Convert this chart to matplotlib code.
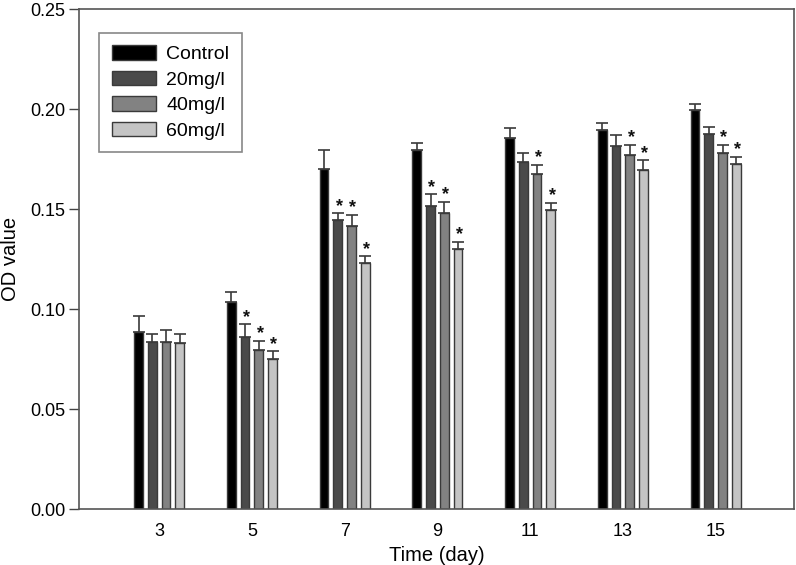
import numpy as np
import matplotlib
matplotlib.use("Agg")
import matplotlib.pyplot as plt

plt.rcParams["font.family"] = ["Liberation Sans", "DejaVu Sans"]

days = [3, 5, 7, 9, 11, 13, 15]
groups = ["Control", "20mg/l", "40mg/l", "60mg/l"]

# bar heights (OD value)
control = [0.0885, 0.1037, 0.1702, 0.1797, 0.1858, 0.1898, 0.1998]
mg20 = [0.0838, 0.0862, 0.1445, 0.1515, 0.1738, 0.1817, 0.1875]
mg40 = [0.0838, 0.0797, 0.1415, 0.1480, 0.1675, 0.1773, 0.1780]
mg60 = [0.0832, 0.0753, 0.1232, 0.1303, 0.1497, 0.1698, 0.1728]

# upper error (SD)
err_control = [0.0080, 0.0048, 0.0093, 0.0036, 0.0047, 0.0035, 0.0029]
err_20 = [0.0039, 0.0063, 0.0035, 0.0060, 0.0042, 0.0056, 0.0035]
err_40 = [0.0057, 0.0046, 0.0057, 0.0058, 0.0047, 0.0049, 0.0042]
err_60 = [0.0045, 0.0037, 0.0033, 0.0035, 0.0036, 0.0047, 0.0035]

# significance markers (True = *)
sig_20 = [False, True, True, True, False, False, False]
sig_40 = [False, True, True, True, True, True, True]
sig_60 = [False, True, True, True, True, True, True]

values = [control, mg20, mg40, mg60]
errors = [err_control, err_20, err_40, err_60]
stars = [[False] * 7, sig_20, sig_40, sig_60]
colors = ["#000000", "#4a4a4a", "#828282", "#c4c4c4"]

fig = plt.figure(figsize=(7.96, 5.65), dpi=100)
ax = fig.add_axes([0.0992, 0.0986, 0.8983, 0.8849])

x = np.array(days, dtype=float)
width = 0.19
step = 0.296
for i, (vals, errs, sig, col) in enumerate(zip(values, errors, stars, colors)):
    pos = x + (i - 1.5) * step
    ax.bar(pos, vals, width=width, color=col, edgecolor="#3a3a3a",
           linewidth=1.0, label=groups[i], zorder=2)
    ax.errorbar(pos, vals, yerr=[np.zeros(len(errs)), errs], fmt="none",
                ecolor="#3a3a3a", elinewidth=1.2, capsize=4.5, capthick=1.2,
                zorder=1)
    for p, v, e, s in zip(pos, vals, errs, sig):
        if s:
            ax.text(p + 0.03, v + e + 0.0035, "*", ha="center", va="center",
                    fontsize=13, fontweight="bold", color="#111111")

ax.set_xlim(1.27, 16.69)
ax.set_ylim(0, 0.25)
ax.set_xticks(days)
ax.set_xticklabels([str(d) for d in days])
ax.set_yticks([0.0, 0.05, 0.10, 0.15, 0.20, 0.25])
ax.set_yticklabels(["0.00", "0.05", "0.10", "0.15", "0.20", "0.25"])
ax.tick_params(axis="x", length=0, labelsize=13, pad=10)
ax.tick_params(axis="y", length=7, width=1.0, color="#444444", labelsize=13, pad=3)

for sp in ax.spines.values():
    sp.set_color("#555555")
    sp.set_linewidth(1.2)

ax.set_xlabel("Time (day)", fontsize=14.5, labelpad=4)
ax.set_ylabel("OD value", fontsize=14.5, labelpad=7)

leg = ax.legend(loc="upper left", bbox_to_anchor=(0.028, 0.953), fontsize=14,
                fancybox=False, edgecolor="#888888", framealpha=1,
                handlelength=2.3, handleheight=0.77, labelspacing=0.38,
                borderpad=0.65, handletextpad=0.5, borderaxespad=0)
leg.get_frame().set_linewidth(1.2)

fig.savefig("out.png", dpi=100)
